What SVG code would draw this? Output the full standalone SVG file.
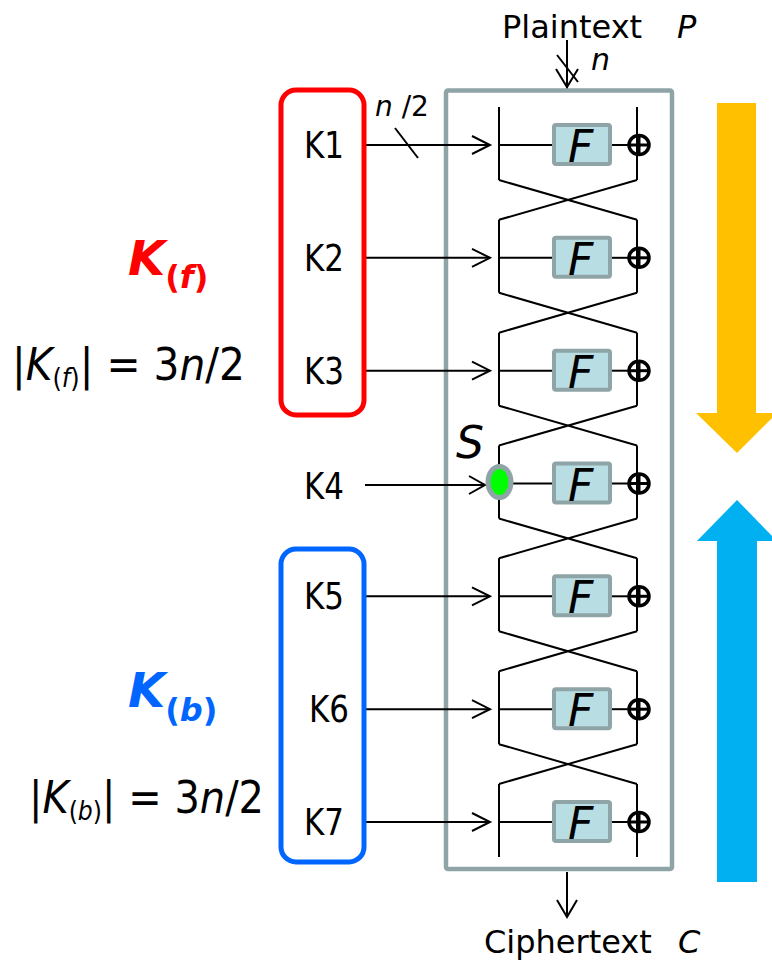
<svg xmlns="http://www.w3.org/2000/svg" width="772" height="962" viewBox="0 0 772 962">
<style>
  text { font-family: "DejaVu Sans", "Liberation Sans", sans-serif; fill: #000; }
  .it { font-style: italic; }
  .lbl { font-size: 38px; }
  .big { font-size: 32px; }
  .wire { stroke: #000; stroke-width: 2; fill: none; }
  .fbox { fill: #B8DEE3; stroke: #8EA4A6; stroke-width: 4; }
  .fx { font-size: 44px; font-style: italic; }
  .xor { fill: none; stroke: #000; stroke-width: 3.5; }
  .xorx { stroke: #000; stroke-width: 3; }
  .head { stroke: #000; stroke-width: 2; fill: none; }
</style>
<defs>
  <g id="round">
    <line class="wire" x1="499" y1="-38" x2="499" y2="35"/>
    <line class="wire" x1="637" y1="-38" x2="637" y2="35"/>
    <line class="wire" x1="499" y1="0" x2="554" y2="0"/>
    <line class="wire" x1="612" y1="0" x2="630" y2="0"/>
    <rect class="fbox" x="554" y="-20" width="56" height="39" rx="2"/>
    <text class="fx" x="568" y="17">F</text>
    <ellipse class="xor" cx="639" cy="0" rx="10" ry="9.5"/>
    <line class="xorx" x1="629" y1="0" x2="649" y2="0"/>
    <line class="xorx" x1="639" y1="-10" x2="639" y2="10"/>
  </g>
</defs>

<!-- Big direction arrows -->
<g id="arrow-forward">
  <polygon points="717,103 756,103 756,413 777,413 737,453 696,413 717,413" fill="#FFC000"/>
</g>
<g id="arrow-backward">
  <polygon points="737,500 777,541 757,541 757,882 717,882 717,541 697,541" fill="#00B0F0"/>
</g>

<!-- Cipher block -->
<g id="cipher">
  <rect x="446" y="90.5" width="226" height="778.5" rx="2" fill="none" stroke="#8EA4A6" stroke-width="4.5"/>
</g>

<g id="rounds">
  <use href="#round" transform="translate(0,145)"/>
  <use href="#round" transform="translate(0,257.8)"/>
  <use href="#round" transform="translate(0,370.7)"/>
  <use href="#round" transform="translate(0,483.5)"/>
  <use href="#round" transform="translate(0,596.3)"/>
  <use href="#round" transform="translate(0,709.2)"/>
  <use href="#round" transform="translate(0,822)"/>
</g>

<g id="connectors">
  <!-- Feistel crossings -->
  <path class="wire" d="M499,180 L637,219.8 M637,180 L499,219.8"/>
  <path class="wire" d="M499,292.8 L637,332.7 M637,292.8 L499,332.7"/>
  <path class="wire" d="M499,405.7 L637,445.5 M637,405.7 L499,445.5"/>
  <path class="wire" d="M499,518.5 L637,558.3 M637,518.5 L499,558.3"/>
  <path class="wire" d="M499,631.3 L637,671.2 M637,631.3 L499,671.2"/>
  <path class="wire" d="M499,744.2 L637,784 M637,744.2 L499,784"/>
  <!-- Plaintext in -->
  <line class="wire" x1="567" y1="40" x2="567" y2="88"/>
  <path class="head" d="M556,69 L567,87 L578,69"/>
  <line class="wire" x1="557" y1="55" x2="578" y2="82"/>
  <!-- Ciphertext out -->
  <line class="wire" x1="567" y1="872" x2="567" y2="917"/>
  <path class="head" d="M557,900 L567,917 L577,900"/>
  <!-- key inputs -->
  <line class="wire" x1="366" y1="145" x2="490" y2="145"/>
  <path class="head" d="M472,136 L490,145 L472,154"/>
  <line class="wire" x1="395" y1="128" x2="418" y2="158"/>
  <line class="wire" x1="366" y1="257.8" x2="490" y2="257.8"/>
  <path class="head" d="M472,248.8 L490,257.8 L472,266.8"/>
  <line class="wire" x1="366" y1="370.7" x2="490" y2="370.7"/>
  <path class="head" d="M472,361.7 L490,370.7 L472,379.7"/>
  <line class="wire" x1="365" y1="485" x2="485" y2="485"/>
  <path class="head" d="M469,476 L485,485 L469,494"/>
  <line class="wire" x1="366" y1="596.3" x2="490" y2="596.3"/>
  <path class="head" d="M472,587.3 L490,596.3 L472,605.3"/>
  <line class="wire" x1="366" y1="709.2" x2="490" y2="709.2"/>
  <path class="head" d="M472,700.2 L490,709.2 L472,718.2"/>
  <line class="wire" x1="366" y1="822" x2="490" y2="822"/>
  <path class="head" d="M472,813 L490,822 L472,831"/>
</g>

<!-- Meet-in-the-middle point S -->
<g id="node-S">
  <ellipse cx="499.5" cy="482" rx="11.5" ry="15.5" fill="#00FF00" stroke="#8EA4A6" stroke-width="5"/>
  <text class="it" x="456" y="458" font-size="44">S</text>
</g>

<!-- Key groups -->
<g id="key-forward">
  <rect x="281" y="90" width="83" height="325" rx="15" fill="none" stroke="#FF0000" stroke-width="5"/>
  <text class="lbl" x="304" y="158" textLength="40" lengthAdjust="spacingAndGlyphs">K1</text>
  <text class="lbl" x="304" y="271" textLength="40" lengthAdjust="spacingAndGlyphs">K2</text>
  <text class="lbl" x="304" y="384" textLength="40" lengthAdjust="spacingAndGlyphs">K3</text>
</g>
<g id="key-4">
  <text class="lbl" x="304" y="499" textLength="40" lengthAdjust="spacingAndGlyphs">K4</text>
</g>
<g id="key-backward">
  <rect x="281" y="549" width="83" height="313" rx="15" fill="none" stroke="#0066FF" stroke-width="5"/>
  <text class="lbl" x="304" y="609" textLength="40" lengthAdjust="spacingAndGlyphs">K5</text>
  <text class="lbl" x="309" y="722" textLength="40" lengthAdjust="spacingAndGlyphs">K6</text>
  <text class="lbl" x="304" y="835" textLength="40" lengthAdjust="spacingAndGlyphs">K7</text>
</g>

<!-- Labels -->
<g id="label-n2">
  <text x="375" y="116" font-size="28"><tspan font-style="italic">n</tspan> /2</text>
</g>
<g id="label-plaintext">
  <text class="big" x="502" y="38">Plaintext</text>
  <text class="big it" x="677" y="38">P</text>
  <text class="it" x="591" y="70" font-size="30">n</text>
</g>
<g id="label-ciphertext">
  <text class="big" x="484" y="953">Ciphertext</text>
  <text class="big it" x="678" y="953">C</text>
</g>

<g id="label-Kf">
  <text x="128" y="275" font-size="48" font-weight="bold" font-style="italic" style="fill:#FF0000">K<tspan font-size="32" font-style="normal" dy="13">(<tspan font-style="italic">f</tspan>)</tspan></text>
  <text x="12" y="380" font-size="44" textLength="233" lengthAdjust="spacingAndGlyphs">|<tspan font-style="italic">K</tspan><tspan font-size="26" dy="7">(<tspan font-style="italic">f</tspan>)</tspan><tspan dy="-7">| = 3</tspan><tspan font-style="italic">n</tspan>/2</text>
</g>
<g id="label-Kb">
  <text x="128" y="707" font-size="48" font-weight="bold" font-style="italic" style="fill:#0066FF">K<tspan font-size="32" font-style="normal" dy="14">(<tspan font-style="italic">b</tspan>)</tspan></text>
  <text x="29" y="813" font-size="44" textLength="235" lengthAdjust="spacingAndGlyphs">|<tspan font-style="italic">K</tspan><tspan font-size="26" dy="7">(<tspan font-style="italic">b</tspan>)</tspan><tspan dy="-7">| = 3</tspan><tspan font-style="italic">n</tspan>/2</text>
</g>
</svg>
